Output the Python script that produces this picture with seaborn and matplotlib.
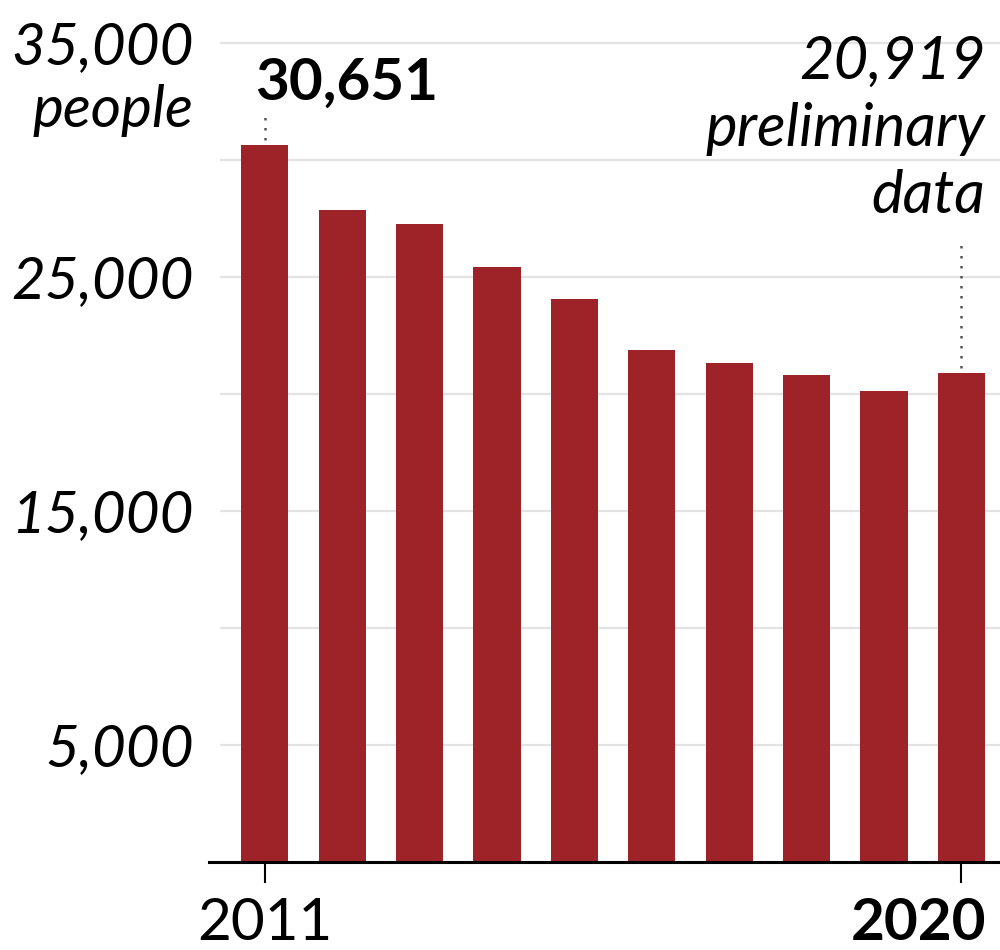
import matplotlib
matplotlib.use("Agg")
import matplotlib.pyplot as plt
import matplotlib.transforms as mtransforms
import pandas as pd
import seaborn as sns

sns.set_style("white")
plt.rcParams["font.family"] = ["Lato", "DejaVu Sans"]
plt.rcParams["text.color"] = "black"
plt.rcParams["xtick.color"] = "black"
plt.rcParams["ytick.color"] = "black"

years = ["2011", "2012", "2013", "2014", "2015", "2016", "2017", "2018", "2019", "2020"]
people = [30651, 27860, 27265, 25430, 24060, 21880, 21325, 20810, 20130, 20919]
y_ticks = [5000, 15000, 25000, 35000]
grid_lines = [5000, 10000, 15000, 20000, 25000, 30000, 35000]

bar_color = "#9e2329"

df = pd.DataFrame({"year": years, "people": people})

fig = plt.figure(figsize=(10, 9.5), dpi=100)
ax = fig.add_axes([0.209, 0.0926, 0.791, 0.9074])

# light grid first so the bars sit on top
for g in grid_lines:
    ax.axhline(g, xmin=0.015, color="#e3e3e3", lw=1.6, zorder=0)

sns.barplot(data=df, x="year", y="people", color=bar_color, width=0.61,
            saturation=1, edgecolor="none", ax=ax, zorder=2)

ax.set_xlim(-0.72, 9.5)
ax.set_ylim(0, 36840)
sns.despine(ax=ax, left=True, top=True, right=True)
ax.spines["bottom"].set_linewidth(2.2)
ax.spines["bottom"].set_color("black")
ax.spines["bottom"].set_zorder(3)

ax.set_yticks(y_ticks)
ax.set_yticklabels([f"{v:,}" for v in y_ticks], fontsize=42, style="italic")
ax.tick_params(axis="y", length=0, pad=11)

ax.set_xticks([0, 9])
ax.set_xticklabels(["2011", "2020"], fontsize=42)
ax.tick_params(axis="x", bottom=True, length=15, width=1.5, color="black", pad=10)
lab_2020 = ax.get_xticklabels()[1]
lab_2020.set_fontweight("bold")
lab_2020.set_horizontalalignment("right")
lab_2020.set_transform(lab_2020.get_transform()
                       + mtransforms.ScaledTranslation(0.25, 0, fig.dpi_scale_trans))
ax.set_xlabel("")
ax.set_ylabel("")

# unit label under the top tick
fig.text(0.193, 1 - 127 / 950, "people", fontsize=42, style="italic",
         ha="right", va="baseline")

# annotations
ax.plot([0, 0], [people[0] + 200, 31900], ls=(0, (1, 3)), color="#555555", lw=1.8, zorder=1)
ax.text(-0.13, 32560, f"{people[0]:,}", fontsize=42, fontweight="bold",
        ha="left", va="baseline")

ax.plot([9, 9], [people[9] + 200, 26450], ls=(0, (1, 3)), color="#555555", lw=1.8, zorder=1)
ax.text(9.31, 35350, f"{people[9]:,}\npreliminary\ndata", fontsize=43, style="italic",
        ha="right", va="top", multialignment="right", linespacing=1.3)

fig.savefig("out.png", dpi=100)
